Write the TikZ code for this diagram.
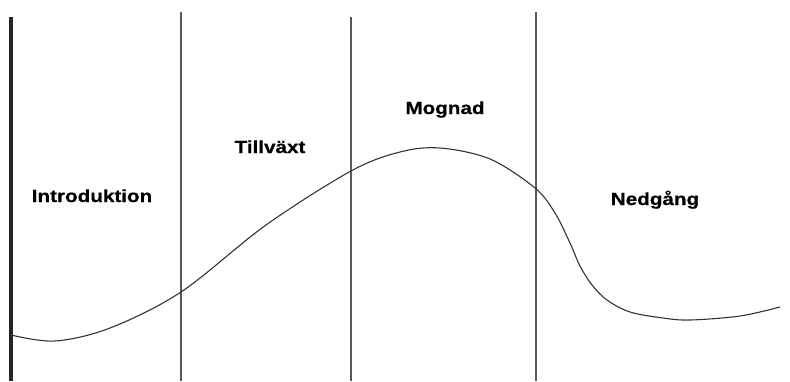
\documentclass[tikz,border=0pt]{standalone}
\usepackage{fontspec}
\setmainfont{Liberation Sans}[FakeStretch=1.18, BoldFeatures={FakeBold=0.6}]
\tikzset{
  divider/.style={draw=black!65, line width=1.5pt},
  mainline/.style={draw=black!85, line width=3.2pt},
  curve/.style={draw=black!80, line width=1.1pt},
  phase/.style={font=\bfseries\fontsize{17.5}{20}\selectfont, anchor=base, inner sep=0pt}
}
\begin{document}
\begin{tikzpicture}[x=1pt,y=-1pt]
\useasboundingbox (0,0) rectangle (790,381);
% dividers
\coordinate (a1) at (11,17);  \coordinate (a2) at (11,381);
\coordinate (b1) at (181,12); \coordinate (b2) at (181,381);
\coordinate (c1) at (351,17); \coordinate (c2) at (351,381);
\coordinate (d1) at (536,12); \coordinate (d2) at (536,381);
\draw[mainline] (a1) -- (a2);
\draw[divider] (b1) -- (b2);
\draw[divider] (c1) -- (c2);
\draw[divider] (d1) -- (d2);
% life-cycle curve
\draw[curve] plot[smooth, tension=0.55] coordinates {
 (11,335) (55,341) (110,328) (181,292) (266,225) (351,171) (400,152) (440,148)
 (490,159) (535,188) (555,213) (570,243) (580,266) (592,285) (607,300) (630,312)
 (663,318) (690,320) (740,316) (780,307)};
% labels
\node[phase] (intro) at (92,202) {Introduktion};
\node[phase] (till) at (270,153) {Tillväxt};
\node[phase] (mog) at (445,114) {Mognad};
\node[phase] (ned) at (655,205) {Nedgång};
\end{tikzpicture}
\end{document}
